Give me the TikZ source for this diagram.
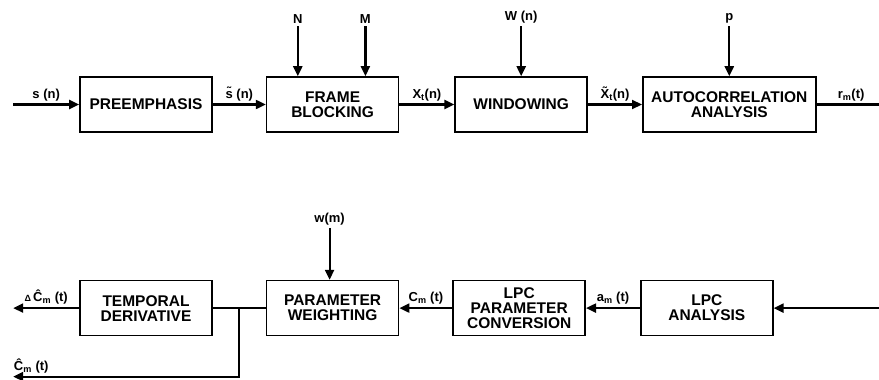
\documentclass[tikz,border=0pt]{standalone}
\usepackage{fontspec}
\setmainfont{Liberation Sans}
\usepackage{tikz}
\usetikzlibrary{calc,positioning,arrows.meta}

\begin{document}
\begin{tikzpicture}[node distance=54pt,
  blk/.style={draw,line width=1.6pt,minimum width=132pt,minimum height=55pt,align=center,inner sep=2pt,font=\bfseries\fontsize{15.5}{15}\selectfont},
  lbl/.style={font=\bfseries\fontsize{13}{13}\selectfont,inner sep=2.5pt},
  flow/.style={line width=2.2pt,-{Triangle[length=10pt,width=9pt]}},
  wire/.style={line width=2.2pt}]
\useasboundingbox (0,0) rectangle (879pt,-380pt);
% top row
\node[blk] (preemph) at (146pt,-104.5pt) {PREEMPHASIS};
\node[blk,right=53pt of preemph] (frame) {FRAME\\BLOCKING};
\node[blk,right=55pt of frame] (window) {WINDOWING};
\node[blk,minimum width=173pt,right=54pt of window] (autocorr) {AUTOCORRELATION\\ANALYSIS};
% bottom row
\node[blk,below=147pt of preemph] (deriv) {TEMPORAL\\DERIVATIVE};
\node[blk,right=53pt of deriv] (weight) {PARAMETER\\WEIGHTING};
\node[blk,right=53pt of weight] (conv) {LPC\\PARAMETER\\CONVERSION};
\node[blk,right=54pt of conv] (lpc) {LPC\\ANALYSIS};
% side inputs
\node[lbl,above=50pt of frame.north west,xshift=32pt] (nlab) {N};
\node[lbl,above=50pt of frame.north east,xshift=-34pt] (mlab) {M};
\node[lbl,above=50pt of window.north] (wnlab) {W (n)};
\node[lbl,above=50pt of autocorr.north] (plab) {p};
\node[lbl,above=52pt of weight.north,xshift=-3pt] (wmlab) {w(m)};
\draw[flow] (nlab) -- (nlab |- frame.north);
\draw[flow] (mlab) -- (mlab |- frame.north);
\draw[flow] (wnlab) -- (wnlab |- window.north);
\draw[flow] (plab) -- (plab |- autocorr.north);
\draw[flow] (wmlab) -- (wmlab |- weight.north);
% free ends
\coordinate[left=66pt of preemph] (sin);
\coordinate[right=69pt of autocorr] (rout);
\coordinate[right=110pt of lpc] (lpcin);
\coordinate[left=66pt of deriv] (dout);
\coordinate (tap) at ($(deriv.east)!0.5!(weight.west)$);
\coordinate[below=68.5pt of tap] (bend);
% signal flow
\draw[flow] (sin) -- (preemph) node[midway,above,lbl] {s (n)};
\draw[flow] (preemph) -- (frame) node[midway,above,lbl] {\~{s} (n)};
\draw[flow] (frame) -- (window) node[midway,above,lbl] {X\textsubscript{t}(n)};
\draw[flow] (window) -- (autocorr) node[midway,above,lbl] {\~{X}\textsubscript{t}(n)};
\draw[wire] (autocorr) -- (rout) node[midway,above,lbl] {r\textsubscript{m}(t)};
\draw[flow] (lpcin) -- (lpc);
\draw[flow] (lpc) -- (conv) node[midway,above,lbl] {a\textsubscript{m} (t)};
\draw[flow] (conv) -- (weight) node[midway,above,lbl] {C\textsubscript{m} (t)};
\draw[wire] (weight) -- (deriv);
\draw[flow] (deriv) -- (dout) node[midway,above,lbl] {{\fontsize{9}{9}\selectfont Δ}\,\^{C}\textsubscript{m} (t)};
\draw[flow] (tap) -- (bend) -- (bend -| dout) node[pos=0.92,above,lbl] {\^{C}\textsubscript{m} (t)};
\end{tikzpicture}
\end{document}
